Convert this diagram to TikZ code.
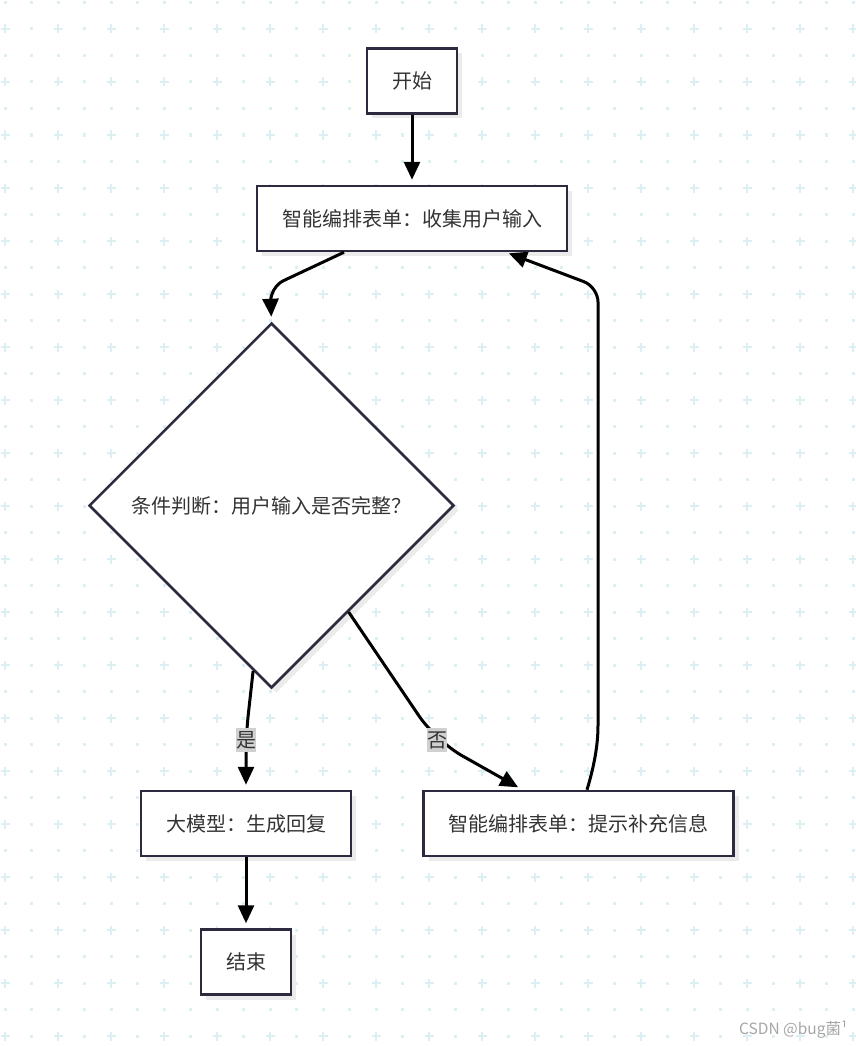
\documentclass[tikz,border=0pt]{standalone}
\usepackage{fontspec}
\setmainfont{Noto Sans CJK SC}
\usepackage{xcolor}
\usetikzlibrary{arrows.meta}
\usetikzlibrary{shapes.geometric}
\usetikzlibrary{shadows}
\usetikzlibrary{calc}

\definecolor{gridc}{RGB}{220,239,242}
\definecolor{linec}{RGB}{44,42,62}
\definecolor{textc}{RGB}{51,51,51}
\definecolor{lblc}{RGB}{208,208,208}

\begin{document}
\begin{tikzpicture}[x=1pt,y=-1pt,
  box/.style={draw=linec, line width=2.5pt, fill=white, text=textc,
    inner xsep=25pt, minimum height=65pt, font=\fontsize{20}{24}\selectfont,
    drop shadow={shadow xshift=5pt, shadow yshift=-5pt, fill=black!8, opacity=1}},
  decision/.style={diamond, aspect=1, draw=linec, line width=2.5pt, fill=white,
    text=textc, inner sep=0pt, minimum width=365pt, minimum height=365pt,
    font=\fontsize{20}{24}\selectfont,
    drop shadow={shadow xshift=5pt, shadow yshift=-5pt, fill=black!8, opacity=1}},
  flow/.style={line width=3pt, black, shorten >=5pt, -{Triangle[length=18pt,width=16pt]}},
  lbl/.style={fill=lblc, text=textc, inner xsep=0pt, inner ysep=3pt,
    font=\fontsize{20}{24}\selectfont}]

  % Fix the page size
  \useasboundingbox (0,0) rectangle (855,1046);

  % Background grid: dots, with a cross at every other one
  \foreach \i in {0,...,32} {
    \foreach \j in {0,...,39} {
      \pgfmathsetmacro\gx{5+26.5*\i}
      \pgfmathsetmacro\gy{2.5+26.5*\j}
      \ifodd\i
        \fill[gridc] (\gx-1.5,\gy-1.5) rectangle ++(3,3);
      \else
        \ifodd\j
          \draw[gridc, line width=1.8pt] (\gx-4.5,\gy) -- ++(9,0) (\gx,\gy-4.5) -- ++(0,9);
        \else
          \fill[gridc] (\gx-1.5,\gy-1.5) rectangle ++(3,3);
        \fi
      \fi
    }
  }

  % Steps of the flow
  \node[box] (start) at (412,81) {开始};
  \node[box] (form) at (412,218.5) {智能编排表单：收集用户输入};
  \node[decision] (check) at (271.5,505.5) {条件判断：用户输入是否完整？};
  \node[box] (reply) at (246,823.5) {大模型：生成回复};
  \node[box] (hint) at (578.5,823.5) {智能编排表单：提示补充信息};
  \node[box] (stop) at (246,962) {结束};

  % Connectors
  \draw[flow] (start) -- (form);
  \draw[flow, rounded corners=15pt] ([xshift=-68pt]form.south) -- (270,287) -- (check.north);
  \draw[flow, rounded corners=20pt] ($(check.west)!0.9!(check.south)$) -- (246,735) -- (reply.north);
  \draw[flow, rounded corners=30pt] ($(check.east)!0.58!(check.south)$) -- (436,741) -- ([xshift=-56pt]hint.north);
  \draw[flow, shorten >=3pt, rounded corners=15pt] ([xshift=8.5pt]hint.north)
    .. controls (596,760) and (598,740) .. (598,710) -- (598,287) -- ([xshift=94pt]form.south);
  \draw[flow] (reply) -- (stop);

  % Labels of the two branches
  \node[lbl] (yes) at (246,740) {是};
  \node[lbl] (no) at (437,740) {否};

  % Watermark
  \node[anchor=east, text=black!35, font=\fontsize{15.5}{18}\selectfont] (mark) at (851,1030) {CSDN @bug菌¹};
\end{tikzpicture}
\end{document}
